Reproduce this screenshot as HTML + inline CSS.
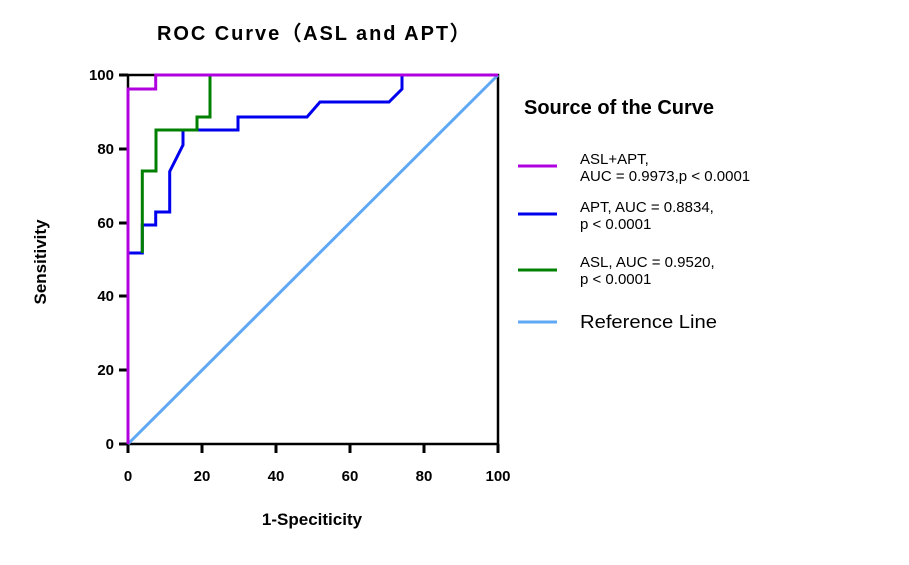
<!DOCTYPE html>
<html><head><meta charset="utf-8"><style>body{margin:0;background:#fff}svg{display:block}</style></head><body>
<svg width="909" height="565" xmlns="http://www.w3.org/2000/svg" font-family="Liberation Sans, sans-serif">
<rect width="909" height="565" fill="#fff"/>
<text x="157" y="40" font-size="20" font-weight="bold" textLength="313" lengthAdjust="spacing">ROC Curve（ASL and APT）</text>
<g stroke="#000" stroke-width="3" fill="none">
<polyline points="128,75 128,444 498,444 498,75 128,75" stroke-width="2.5"/>
<line x1="128" y1="444" x2="128" y2="453"/><line x1="202" y1="444" x2="202" y2="453"/><line x1="276" y1="444" x2="276" y2="453"/><line x1="350" y1="444" x2="350" y2="453"/><line x1="424" y1="444" x2="424" y2="453"/><line x1="498" y1="444" x2="498" y2="453"/>
<line x1="119" y1="444" x2="128" y2="444"/><line x1="119" y1="370" x2="128" y2="370"/><line x1="119" y1="296" x2="128" y2="296"/><line x1="119" y1="223" x2="128" y2="223"/><line x1="119" y1="149" x2="128" y2="149"/><line x1="119" y1="75" x2="128" y2="75"/>
</g>
<line x1="128" y1="444" x2="498" y2="75" stroke="#5fa8f5" stroke-width="3"/>
<polyline fill="none" stroke="#0000ee" stroke-width="3" points="128,253 142.3,253 142.3,225 155.7,225 155.7,212 169.7,212 169.7,171.5 183,145 183,130 238,130 238,117 307,117 320,102 389,102 402,89 402,75 498,75"/>
<polyline fill="none" stroke="#008000" stroke-width="3" points="142.3,253 142.3,171 156,171 156,130 197,130 197,117 210,117 210,75 498,75"/>
<polyline fill="none" stroke="#b000e0" stroke-width="3" points="128,444 128,89 155.7,89 155.7,75 498,75"/>
<g font-size="15" font-weight="bold" text-anchor="middle">
<text x="128" y="481">0</text><text x="202" y="481">20</text><text x="276" y="481">40</text><text x="350" y="481">60</text><text x="424" y="481">80</text><text x="498" y="481">100</text>
</g>
<g font-size="15" font-weight="bold" text-anchor="end">
<text x="114" y="449">0</text><text x="114" y="375">20</text><text x="114" y="301">40</text><text x="114" y="228">60</text><text x="114" y="154">80</text><text x="114" y="80">100</text>
</g>
<text x="312" y="525" font-size="17" font-weight="bold" text-anchor="middle">1-Speciticity</text>
<text transform="translate(46,262) rotate(-90)" font-size="17" font-weight="bold" text-anchor="middle">Sensitivity</text>
<text x="524" y="114" font-size="20" font-weight="bold">Source of the Curve</text>
<g stroke-width="3">
<line x1="518" y1="166" x2="557" y2="166" stroke="#b000e0"/>
<line x1="518" y1="214" x2="557" y2="214" stroke="#0000ee"/>
<line x1="518" y1="270" x2="557" y2="270" stroke="#008000"/>
<line x1="518" y1="322" x2="557" y2="322" stroke="#5fa8f5"/>
</g>
<g font-size="15">
<text x="580" y="164">ASL+APT,</text><text x="580" y="181">AUC = 0.9973,p &lt; 0.0001</text>
<text x="580" y="212">APT, AUC = 0.8834,</text><text x="580" y="229">p &lt; 0.0001</text>
<text x="580" y="267">ASL, AUC = 0.9520,</text><text x="580" y="284">p &lt; 0.0001</text>
</g>
<text x="580" y="328" font-size="18" textLength="137" lengthAdjust="spacingAndGlyphs">Reference Line</text>
</svg>
</body></html>
